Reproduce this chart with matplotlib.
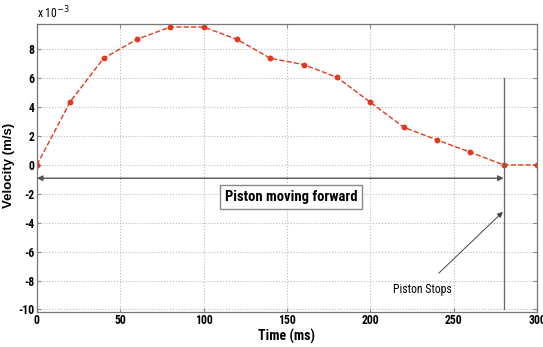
import matplotlib
matplotlib.use("Agg")
import matplotlib.pyplot as plt

# time samples (ms) and piston velocity (x 10^-3 m/s)
time_ms = [0, 20, 40, 60, 80, 100, 120, 140, 160, 180, 200, 220, 240, 260, 280, 300]
velocity_e3 = [0, 4.38, 7.38, 8.69, 9.54, 9.54, 8.69, 7.38, 6.94, 6.06, 4.34, 2.61, 1.73, 0.88, 0, 0]

x_ticks = [0, 50, 100, 150, 200, 250, 300]
y_ticks = [-10, -8, -6, -4, -2, 0, 2, 4, 6, 8]

stop_time = 280

plt.rcParams['font.family'] = ['Roboto Condensed', 'DejaVu Sans']
plt.rcParams['axes.unicode_minus'] = False

fig = plt.figure(figsize=(5.43, 3.47), dpi=100)
ax = fig.add_axes([0.068, 0.102, 0.921, 0.828])

ax.plot(time_ms, velocity_e3, linestyle='--', color='#e2391e', lw=1.0,
        marker='o', markersize=3.2, markerfacecolor='#e2391e', markeredgecolor='#e2391e')

ax.set_xlim(0, 300)
ax.set_ylim(-10.15, 9.73)
ax.set_xticks(x_ticks)
ax.set_yticks(y_ticks)
ax.tick_params(direction='in', length=3, labelsize=8.5, color='#888888', top=True, right=True, pad=2)
for lab in ax.get_xticklabels() + ax.get_yticklabels():
    lab.set_fontweight('bold')
ax.grid(True, linestyle=':', color='#bbbbbb', lw=0.8)
for s in ax.spines.values():
    s.set_color('#777777')
    s.set_linewidth(0.9)

ax.set_xlabel('Time (ms)', fontsize=10, fontweight='bold', labelpad=1)
ax.set_ylabel('Velocity (m/s)', fontsize=9.5, fontweight='bold', family=['Liberation Sans', 'DejaVu Sans'])
ax.yaxis.set_label_coords(-0.044, 0.507)
ax.text(0.0, 1.012, r'x 10$^{-3}$', transform=ax.transAxes, fontsize=8.5, ha='left', va='bottom')

# vertical marker where the piston stops
ax.plot([stop_time, stop_time], [-10, 6.0], color='#666666', lw=0.9)

# double arrow for forward motion
ax.annotate('', xy=(stop_time, -0.92), xytext=(0, -0.92),
            arrowprops=dict(arrowstyle='<|-|>', color='#555555', lw=1.0,
                            shrinkA=0, shrinkB=0, mutation_scale=8))

ax.text(152.5, -2.2, 'Piston moving forward', fontsize=10.5, fontweight='bold',
        ha='center', va='center',
        bbox=dict(boxstyle='square,pad=0.35', facecolor='white', edgecolor='#888888', lw=1.0))

ax.annotate('Piston Stops', xy=(279.5, -3.25), xytext=(231, -8.6),
            fontsize=8.5, ha='center', va='center',
            arrowprops=dict(arrowstyle='-|>', color='#444444', lw=0.7,
                            shrinkA=7, shrinkB=0, mutation_scale=8))

fig.savefig('out.png', dpi=100)
